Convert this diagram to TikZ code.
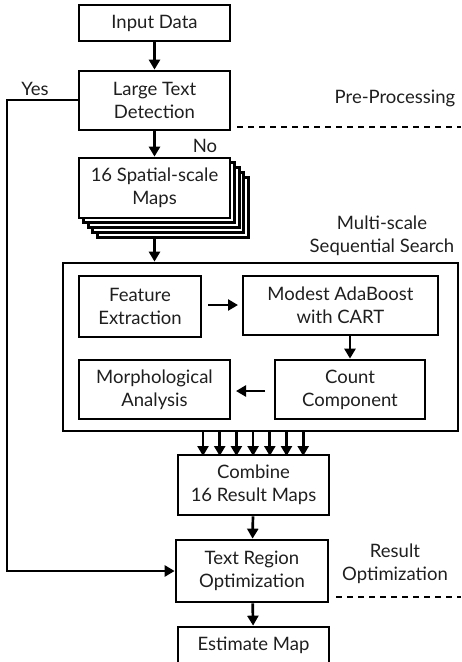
\documentclass[tikz,border=0pt]{standalone}
\usepackage{fontspec}
\setmainfont{Lato}
\usetikzlibrary{arrows.meta}
\begin{document}
\begin{tikzpicture}[x=1pt,y=-1pt,
  box/.style={draw=black,line width=2.7pt,fill=white,align=center,inner sep=0pt,font=\fontsize{18.5}{23}\selectfont,text=black!88},
  lbl/.style={align=center,inner sep=0pt,font=\fontsize{18.5}{23}\selectfont,text=black!88},
  arr/.style={line width=2.7pt,-{Triangle[length=10pt,width=11pt]}},
  dashline/.style={line width=2.2pt,dash pattern=on 6pt off 5pt}]
\useasboundingbox (0,0) rectangle (461,662);
% Input Data
\node[box,minimum width=151pt,minimum height=36pt] (in) at (154.5,23) {Input Data};
\node[box,minimum width=151pt,minimum height=59pt] (ltd) at (154.5,100.5) {Large Text\\Detection};
% stack
\foreach \k in {4,3,2,1}{
  \node[box,minimum width=151pt,minimum height=60pt] (st\k) at (154.5+4.6*\k,188+4.8*\k) {};
}
\node[box,minimum width=151pt,minimum height=60pt] (ssm) at (154.5,188) {16 Spatial-scale\\Maps};
% outer box
\node[draw=black,line width=2.7pt,minimum width=395pt,minimum height=168pt,inner sep=0pt] (outer) at (260.5,347) {};
\node[box,minimum width=122pt,minimum height=61pt] (fe) at (140,306.5) {Feature\\Extraction};
\node[box,minimum width=195pt,minimum height=59pt] (ma) at (340.5,305.5) {Modest AdaBoost\\with CART};
\node[box,minimum width=150pt,minimum height=59pt] (cc) at (350,389.5) {Count\\Component};
\node[box,minimum width=151pt,minimum height=59pt] (mo) at (154.5,389.5) {Morphological\\Analysis};
% bottom
\node[box,minimum width=151pt,minimum height=60pt] (co) at (253.5,485) {Combine\\16 Result Maps};
\node[box,minimum width=152pt,minimum height=62pt] (tro) at (252,571) {Text Region\\Optimization};
\node[box,minimum width=151pt,minimum height=36pt] (em) at (253.5,645) {Estimate Map};
% labels
\node[lbl] (yes) at (35,89) {Yes};
\node[lbl] (no) at (205,146) {No};
\node[lbl] (pre) at (395,98) {Pre-Processing};
\node[lbl] (ms) at (382,235.5) {Multi-scale\\Sequential Search};
\node[lbl] (ro) at (395,563.5) {Result\\Optimization};
% dashed lines
\coordinate (d1a) at (237,127); \coordinate (d1b) at (461,127);
\draw[dashline] (d1a) -- (d1b);
\coordinate (d2a) at (336,597); \coordinate (d2b) at (461,597);
\draw[dashline] (d2a) -- (d2b);
% arrows
\draw[arr] (in) -- (ltd);
\draw[arr] (ltd) -- (ssm);
\draw[arr] (st4.south -| ssm.south) -- (outer.north -| ssm.south);
\coordinate (fa) at (208,305); \coordinate (fb) at (238,305);
\draw[arr] (fa) -- (fb);
\draw[arr] (ma.south -| cc.north) -- (cc.north);
\coordinate (ca) at (265,391); \coordinate (cb) at (236,391);
\draw[arr] (ca) -- (cb);
\foreach \i in {0,...,6}{
  \draw[arr] (203+16.7*\i,431) -- (203+16.7*\i,456);
}
\draw[arr] (co) -- (tro);
\draw[arr] (tro) -- (em);
\coordinate (y1) at (7,100); \coordinate (y2) at (7,571);
\draw[arr] (ltd.west |- y1) -- (y1) -- (y2) -- (tro.west);
\end{tikzpicture}
\end{document}
